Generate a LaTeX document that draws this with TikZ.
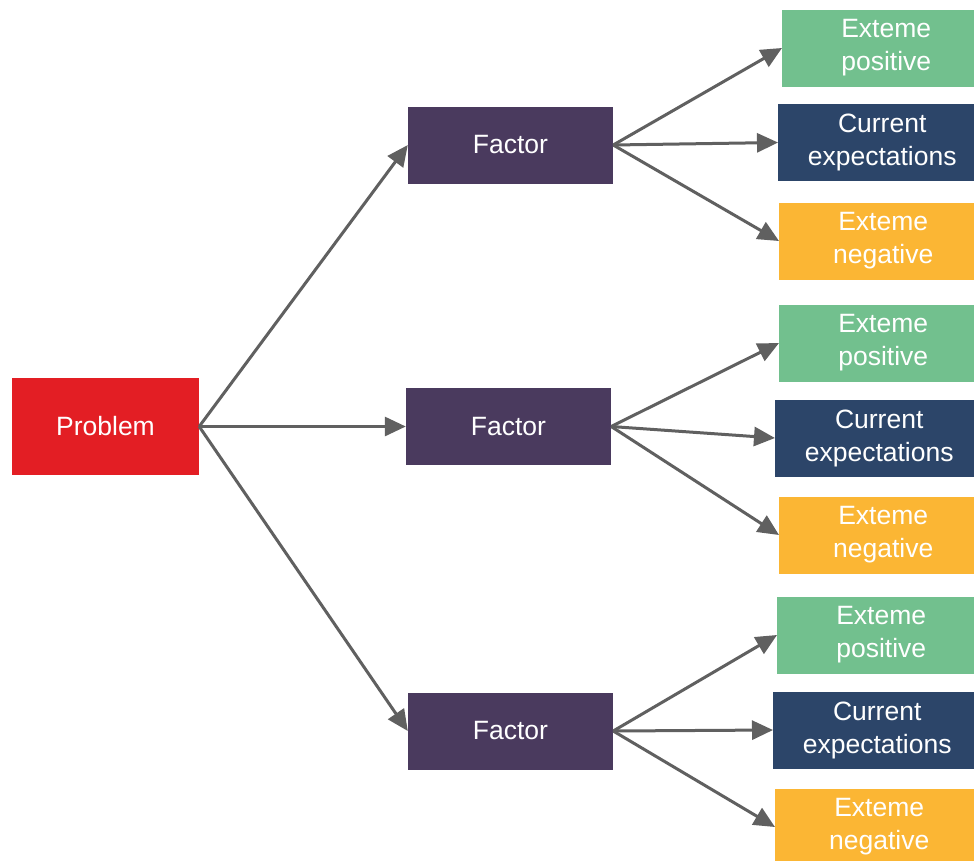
\documentclass[tikz,border=0pt]{standalone}
\usepackage{fontspec}
\setmainfont{Liberation Sans}
\usetikzlibrary{arrows.meta}
\definecolor{probred}{HTML}{E31E24}
\definecolor{factpurple}{HTML}{4A3A5E}
\definecolor{posgreen}{HTML}{72C08E}
\definecolor{curnavy}{HTML}{2C4569}
\definecolor{negyellow}{HTML}{FBB634}
\definecolor{arrowgray}{HTML}{606060}
\begin{document}
\begin{tikzpicture}[x=1pt,y=-1pt,
  box/.style={inner sep=0pt, align=center, text=white, font=\fontsize{26.5}{33}\selectfont},
  probbox/.style={box, fill=probred, minimum width=187pt, minimum height=97pt},
  factbox/.style={box, fill=factpurple, minimum width=205pt, minimum height=77pt},
  leafbox/.style={box, anchor=west, minimum width=208pt, minimum height=77pt},
  posbox/.style={leafbox, fill=posgreen},
  curbox/.style={leafbox, fill=curnavy},
  negbox/.style={leafbox, fill=negyellow},
  conn/.style={draw=arrowgray, line width=3pt, -{Triangle[length=21pt,width=19pt]}}
]
\useasboundingbox[fill=white] (0,0) rectangle (974,860);
\node[probbox] (p) at (105.5,426.5) {Problem};
\node[factbox] (f1) at (510.5,145) {Factor};
\node[factbox] (f2) at (508.5,426.5) {Factor};
\node[factbox] (f3) at (510.5,731) {Factor};
% top group
\node[posbox] (g1) at (782,48) {Exteme\\positive};
\node[curbox] (c1) at (778,142.5) {Current\\expectations};
\node[negbox] (n1) at (779,241) {Exteme\\negative};
% middle group
\node[posbox] (g2) at (779,343) {Exteme\\positive};
\node[curbox] (c2) at (775,438) {Current\\expectations};
\node[negbox] (n2) at (779,535) {Exteme\\negative};
% bottom group
\node[posbox] (g3) at (777,635) {Exteme\\positive};
\node[curbox] (c3) at (773,730) {Current\\expectations};
\node[negbox] (n3) at (775,827) {Exteme\\negative};
% connectors
\draw[conn] (p.east) -- (f1.west);
\draw[conn] (p.east) -- (f2.west);
\draw[conn] (p.east) -- (f3.west);
\draw[conn] (f1.east) -- (g1.west);
\draw[conn] (f1.east) -- (c1.west);
\draw[conn] (f1.east) -- (n1.west);
\draw[conn] (f2.east) -- (g2.west);
\draw[conn] (f2.east) -- (c2.west);
\draw[conn] (f2.east) -- (n2.west);
\draw[conn] (f3.east) -- (g3.west);
\draw[conn] (f3.east) -- (c3.west);
\draw[conn] (f3.east) -- (n3.west);
\end{tikzpicture}
\end{document}
